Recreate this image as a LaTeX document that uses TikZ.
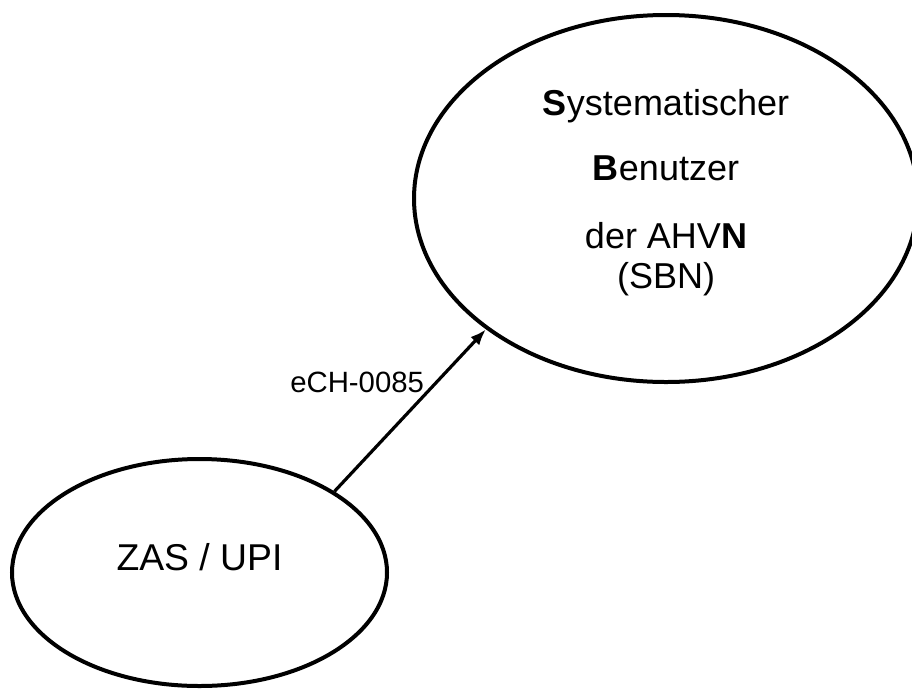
\documentclass[tikz,border=0pt]{standalone}
\usepackage{fontspec}
\setmainfont{Liberation Sans}
\usetikzlibrary{shapes.geometric,arrows.meta}

\begin{document}
\begin{tikzpicture}[x=0.75pt,y=0.75pt,yscale=-1,xscale=1,
  blob/.style={ellipse, draw, line width=3pt, align=center, inner sep=0pt}]
\useasboundingbox (0,0) rectangle (912,689);

%Shape: Ellipse
\node [blob, minimum width=378pt, minimum height=275.25pt,
  font=\fontsize{27}{30}\selectfont, text depth=14pt] (sbn) at (666,198.5)
  {\textbf{S}ystematischer\\[19pt]
   \textbf{B}enutzer\\[21pt]
   der AHV\textbf{N}\\
   (SBN)};
%Shape: Ellipse
\node [blob, minimum width=281.25pt, minimum height=170.25pt,
  font=\fontsize{28}{33}\selectfont, text depth=23.7pt] (zas) at (199.5,572.5)
  {ZAS / UPI};

%Straight Lines
\draw [line width=2.4pt, -{Latex[length=12pt,width=9pt]}] (zas.31) -- (sbn.216);

% Text Node
\draw (289,371) node [anchor=north west][inner sep=0.75pt] {\fontsize{22}{26}\selectfont eCH-0085};

\end{tikzpicture}
\end{document}
